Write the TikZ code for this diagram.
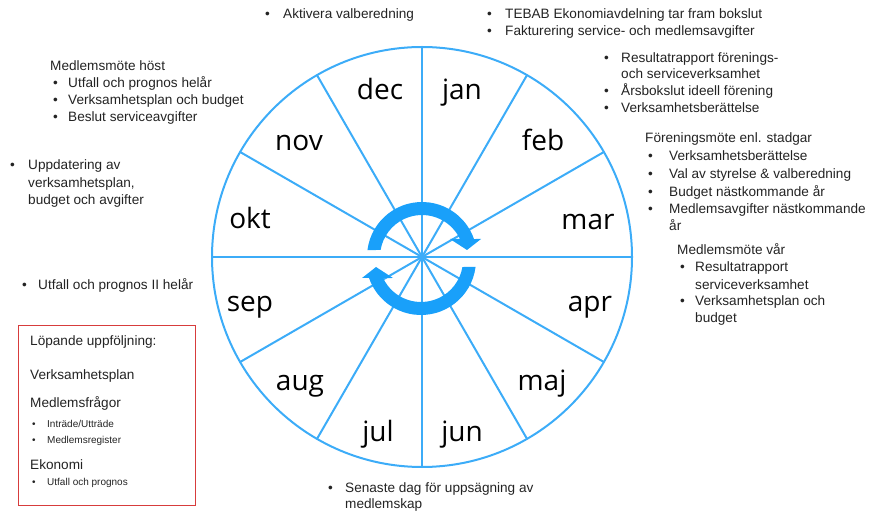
\documentclass[tikz,border=0pt]{standalone}
\usepackage{fontspec}
\setmainfont{Liberation Sans}
\newfontfamily\monthfont{Open Sans}
\definecolor{spoke}{RGB}{60,172,248}
\definecolor{arrowc}{RGB}{25,160,250}
\definecolor{txt}{RGB}{35,35,35}
\definecolor{boxred}{RGB}{215,60,60}
\newcommand\bl[5]{\node[lbl] (#1b) at (#2,{522-#4}) {•};\node[lbl] (#1) at (#3,{522-#4}) {#5};}
\newcommand\tl[4]{\node[lbl] (#1) at (#2,{522-#3}) {#4};}
\newcommand\sbl[5]{\node[sm] (#1b) at (#2,{522-#4}) {•};\node[sm] (#1) at (#3,{522-#4}) {#5};}
\begin{document}
\begin{tikzpicture}[x=1pt,y=1pt,
  lbl/.style={anchor=mid west, inner sep=0pt, text=txt, font=\fontsize{13.6}{16}\selectfont},
  sm/.style={lbl, font=\fontsize{10}{12}\selectfont},
  mon/.style={anchor=mid, inner sep=0pt, text=black, font=\monthfont\fontsize{28}{30}\selectfont},
  ring/.style={draw=spoke, line width=2pt}]
\useasboundingbox (0,0) rectangle (877,522);
\coordinate (c) at (422,265);
\draw[ring] (c) circle[radius=210pt];
\foreach \a in {0,30,...,330}{
  \coordinate (rim\a) at ([shift={(\a:210pt)}]c);
  \draw[ring] (c) -- (rim\a);
}
\foreach \m/\x/\y in {dec/380/90,jan/462/90,nov/299/141,feb/543/141,okt/250/219,mar/588/220,sep/250/302,apr/590/302,aug/300/381,maj/542/381,jul/378/432,jun/462/432}
  \node[mon] (m-\m) at (\x,{515-\y}) {\m};
% circular arrows
\begin{scope}[shift={(c)}]
\fill[arrowc] (172.7:55pt) arc[start angle=172.7,end angle=19.1,radius=55pt]
  -- (59,18) -- (45,7) -- (28,18) -- (25.4:42pt)
  arc[start angle=25.4,end angle=170.4,radius=42pt] -- cycle;
\end{scope}
\begin{scope}[shift={(c)},shift={(-1,-3)},rotate=180]
\fill[arrowc] (172.7:55pt) arc[start angle=172.7,end angle=19.1,radius=55pt]
  -- (59,18) -- (45,7) -- (28,18) -- (25.4:42pt)
  arc[start angle=25.4,end angle=170.4,radius=42pt] -- cycle;
\end{scope}
% texts
\bl{a1}{265}{283}{16}{Aktivera valberedning}
\bl{t1}{487}{505}{16}{TEBAB Ekonomiavdelning tar fram bokslut}
\bl{t2}{487}{505}{33}{Fakturering service- och medlemsavgifter}
\bl{r1}{604}{621}{60}{Resultatrapport förenings-}
\tl{r1c}{621}{76}{och serviceverksamhet}
\bl{r2}{604}{621}{93}{Årsbokslut ideell förening}
\bl{r3}{604}{621}{110}{Verksamhetsberättelse}
\tl{f0}{645}{140}{Föreningsmöte enl. stadgar}
\bl{f1}{648}{669}{158}{Verksamhetsberättelse}
\bl{f2}{648}{669}{176}{Val av styrelse \& valberedning}
\bl{f3}{648}{669}{194}{Budget nästkommande år}
\bl{f4}{648}{669}{211}{Medlemsavgifter nästkommande}
\tl{f4c}{669}{228}{år}
\tl{v0}{677}{252}{Medlemsmöte vår}
\bl{v1}{680}{695}{269}{Resultatrapport}
\tl{v1c}{695}{287}{serviceverksamhet}
\bl{v2}{680}{695}{303}{Verksamhetsplan och}
\tl{v2c}{695}{320}{budget}
\tl{h0}{50}{68}{Medlemsmöte höst}
\bl{h1}{53}{68}{85}{Utfall och prognos helår}
\bl{h2}{53}{68}{102}{Verksamhetsplan och budget}
\bl{h3}{53}{68}{119}{Beslut serviceavgifter}
\bl{u1}{10}{28}{167}{Uppdatering av}
\tl{u2}{28}{185}{verksamhetsplan,}
\tl{u3}{28}{202}{budget och avgifter}
\bl{p1}{22}{38}{287}{Utfall och prognos II helår}
\node[draw=boxred, line width=1.2pt, minimum width=177pt, minimum height=180pt, anchor=north west, inner sep=0pt] (box) at (18,197) {};
\tl{b1}{30}{343}{Löpande uppföljning:}
\tl{b2}{30}{377}{Verksamhetsplan}
\tl{b3}{30}{405}{Medlemsfrågor}
\sbl{b3a}{32}{47}{425}{Inträde/Utträde}
\sbl{b3b}{32}{47}{441}{Medlemsregister}
\tl{b4}{30}{467}{Ekonomi}
\sbl{b4a}{32}{47}{483}{Utfall och prognos}
\bl{s1}{328}{345}{490}{Senaste dag för uppsägning av}
\tl{s2}{345}{506}{medlemskap}
\end{tikzpicture}
\end{document}
